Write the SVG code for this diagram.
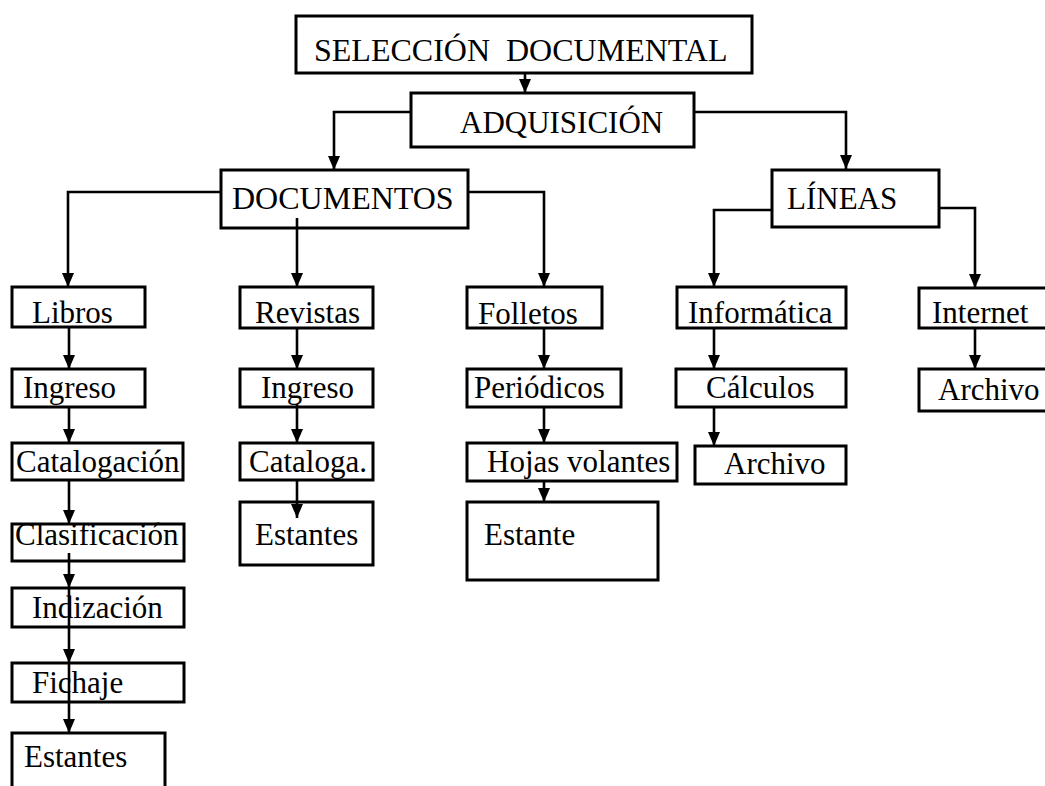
<svg xmlns="http://www.w3.org/2000/svg" width="1045" height="786" viewBox="0 0 1045 786">
<defs>
<marker id="ah" viewBox="0 0 14 12" markerWidth="14" markerHeight="12" refX="14" refY="6" orient="auto" markerUnits="userSpaceOnUse">
<path d="M0,0 L14,6 L0,12 z" fill="#000"/>
</marker>
</defs>
<style>
.box{fill:#fff;stroke:#000;stroke-width:3}
.t{font-family:"Liberation Serif","Times New Roman",serif;font-size:31px;fill:#000}
.big{font-size:32px}
.c{fill:none;stroke:#000;stroke-width:2.6}
</style>
<rect width="1045" height="786" fill="#fff"/>
<g id="n-seleccion"><rect class="box" x="296" y="16" width="456" height="57"/><text class="t big" x="314" y="61">SELECCIÓN&#160; DOCUMENTAL</text></g>
<g id="n-adquisicion"><rect class="box" x="411" y="93" width="283" height="54"/><text class="t" x="460" y="133">ADQUISICIÓN</text></g>
<g id="n-documentos"><rect class="box" x="221" y="170" width="247" height="58"/><text class="t big" x="232" y="209">DOCUMENTOS</text></g>
<g id="n-lineas"><rect class="box" x="772" y="170" width="167" height="57"/><text class="t" x="787" y="209">LÍNEAS</text></g>
<g id="n-libros"><rect class="box" x="12" y="287" width="133" height="40"/><text class="t" x="32" y="323">Libros</text></g>
<g id="n-revistas"><rect class="box" x="240" y="287" width="133" height="41"/><text class="t" x="255" y="323">Revistas</text></g>
<g id="n-folletos"><rect class="box" x="467" y="287" width="135" height="41"/><text class="t" x="478" y="324">Folletos</text></g>
<g id="n-informatica"><rect class="box" x="677" y="287" width="169" height="41"/><text class="t" x="688" y="323">Informática</text></g>
<g id="n-internet"><rect class="box" x="919" y="288" width="140" height="40"/><text class="t" x="932" y="323">Internet</text></g>
<g id="n-ingreso1"><rect class="box" x="12" y="369" width="133" height="38"/><text class="t" x="23" y="398">Ingreso</text></g>
<g id="n-ingreso2"><rect class="box" x="240" y="369" width="133" height="38"/><text class="t" x="261" y="398">Ingreso</text></g>
<g id="n-periodicos"><rect class="box" x="467" y="369" width="154" height="38"/><text class="t" x="474" y="398">Periódicos</text></g>
<g id="n-calculos"><rect class="box" x="676" y="369" width="170" height="38"/><text class="t" x="706" y="398">Cálculos</text></g>
<g id="n-archivo5"><rect class="box" x="919" y="369" width="140" height="42"/><text class="t" x="938" y="400">Archivo</text></g>
<g id="n-catalogacion"><rect class="box" x="12" y="443" width="171" height="37"/><text class="t" x="16" y="472">Catalogación</text></g>
<g id="n-cataloga"><rect class="box" x="240" y="443" width="133" height="37"/><text class="t" x="249" y="472">Cataloga.</text></g>
<g id="n-hojas"><rect class="box" x="467" y="443" width="210" height="38"/><text class="t" x="487" y="472">Hojas volantes</text></g>
<g id="n-archivo4"><rect class="box" x="695" y="446" width="151" height="38"/><text class="t" x="724" y="474">Archivo</text></g>
<g id="n-estantes2"><rect class="box" x="240" y="502" width="133" height="63"/><text class="t" x="255" y="545">Estantes</text></g>
<g id="n-estante3"><rect class="box" x="467" y="502" width="191" height="78"/><text class="t" x="484" y="545">Estante</text></g>
<g id="n-clasificacion"><rect class="box" x="12" y="524" width="172" height="37"/><text class="t" x="15" y="545">Clasificación</text></g>
<g id="n-indizacion"><rect class="box" x="12" y="588" width="172" height="39"/><text class="t" x="32" y="618">Indización</text></g>
<g id="n-fichaje"><rect class="box" x="12" y="663" width="172" height="39"/><text class="t" x="32" y="693">Fichaje</text></g>
<g id="n-estantes1"><rect class="box" x="12" y="733" width="153" height="70"/><text class="t" x="24" y="767">Estantes</text></g>
<g id="connectors">
<path class="c" marker-end="url(#ah)" d="M525,73 V93"/>
<path class="c" marker-end="url(#ah)" d="M411,112 H334 V170"/>
<path class="c" marker-end="url(#ah)" d="M694,112 H846 V169"/>
<path class="c" marker-end="url(#ah)" d="M221,192 H68 V287"/>
<path class="c" marker-end="url(#ah)" d="M297,218 V287"/>
<path class="c" marker-end="url(#ah)" d="M468,192 H544 V287"/>
<path class="c" marker-end="url(#ah)" d="M772,210 H714 V287"/>
<path class="c" marker-end="url(#ah)" d="M939,208 H975 V288"/>
<path class="c" marker-end="url(#ah)" d="M69,327 V369"/>
<path class="c" marker-end="url(#ah)" d="M69,407 V443"/>
<path class="c" marker-end="url(#ah)" d="M69,480 V524"/>
<path class="c" marker-end="url(#ah)" d="M69,553 V588"/>
<path class="c" marker-end="url(#ah)" d="M69,588 V663"/>
<path class="c" marker-end="url(#ah)" d="M69,663 V733"/>
<path class="c" marker-end="url(#ah)" d="M297,328 V369"/>
<path class="c" marker-end="url(#ah)" d="M297,404 V443"/>
<path class="c" marker-end="url(#ah)" d="M297,480 V518"/>
<path class="c" marker-end="url(#ah)" d="M544,328 V369"/>
<path class="c" marker-end="url(#ah)" d="M544,407 V443"/>
<path class="c" marker-end="url(#ah)" d="M544,481 V502"/>
<path class="c" marker-end="url(#ah)" d="M714,328 V369"/>
<path class="c" marker-end="url(#ah)" d="M714,407 V446"/>
<path class="c" marker-end="url(#ah)" d="M975,328 V369"/>
</g>
</svg>
